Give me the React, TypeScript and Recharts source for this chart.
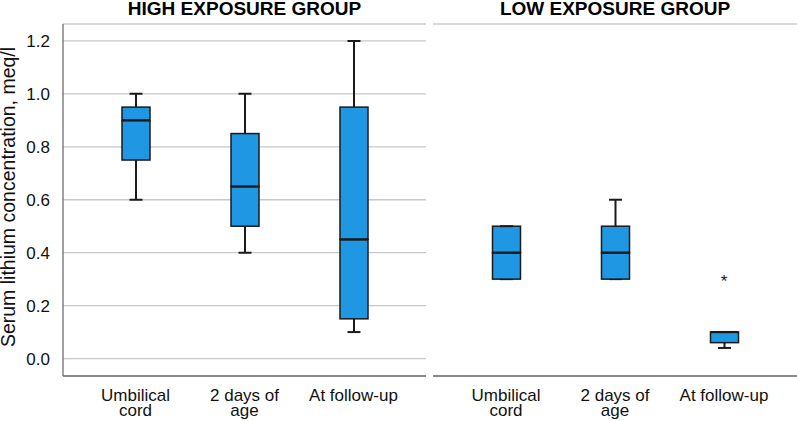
import React from "react";
import { ComposedChart, Bar, Scatter, XAxis, YAxis, CartesianGrid } from "recharts";

const categories = ["Umbilical\ncord", "2 days of\nage", "At follow-up"];
const yTicks = [0, 0.2, 0.4, 0.6, 0.8, 1.0, 1.2];

const highMin = [0.6, 0.4, 0.1];
const highQ1 = [0.75, 0.5, 0.15];
const highMed = [0.9, 0.65, 0.45];
const highQ3 = [0.95, 0.85, 0.95];
const highMax = [1.0, 1.0, 1.2];

const lowMin = [0.3, 0.3, 0.04];
const lowQ1 = [0.3, 0.3, 0.06];
const lowMed = [0.4, 0.4, 0.1];
const lowQ3 = [0.5, 0.5, 0.1];
const lowMax = [0.5, 0.6, 0.1];
const lowOutlier: (number | null)[] = [null, null, 0.3];

const highOutlier: (number | null)[] = [null, null, null];

const BLUE = "#1f97e3";
const INK = "#1a1a1a";
const FONT = "Arial, 'Liberation Sans', sans-serif";

function build(mn: number[], q1: number[], md: number[], q3: number[], mx: number[], out: (number | null)[]) {
  return categories.map((c, i) => ({
    name: c,
    base: mn[i],
    lowW: q1[i] - mn[i],
    boxLo: md[i] - q1[i],
    boxHi: q3[i] - md[i],
    upW: mx[i] - q3[i],
    outlier: out[i],
  }));
}

const highData = build(highMin, highQ1, highMed, highQ3, highMax, highOutlier);
const lowData = build(lowMin, lowQ1, lowMed, lowQ3, lowMax, lowOutlier);

const CAP = 13;

const LowWhisker = (p: any) => {
  const cx = p.x + p.width / 2;
  const y0 = p.y;
  const y1 = p.y + p.height;
  return (
    <g>
      <line x1={cx} x2={cx} y1={y0} y2={y1} stroke={INK} strokeWidth={2} />
      <line x1={cx - CAP / 2} x2={cx + CAP / 2} y1={y1} y2={y1} stroke={INK} strokeWidth={2} />
    </g>
  );
};

const UpWhisker = (p: any) => {
  const cx = p.x + p.width / 2;
  const y0 = p.y;
  const y1 = p.y + p.height;
  return (
    <g>
      <line x1={cx} x2={cx} y1={y0} y2={y1} stroke={INK} strokeWidth={2} />
      <line x1={cx - CAP / 2} x2={cx + CAP / 2} y1={y0} y2={y0} stroke={INK} strokeWidth={2} />
    </g>
  );
};

const BoxLo = (p: any) => (
  <rect x={p.x} y={p.y} width={p.width} height={Math.max(p.height, 0)} fill={BLUE} stroke={INK} strokeWidth={1.5} />
);

const BoxHi = (p: any) => (
  <g>
    <rect x={p.x} y={p.y} width={p.width} height={Math.max(p.height, 0)} fill={BLUE} stroke={INK} strokeWidth={1.5} />
    <line x1={p.x} x2={p.x + p.width} y1={p.y + p.height} y2={p.y + p.height} stroke={INK} strokeWidth={2.2} />
  </g>
);

const Star = (p: any) => {
  if (!p.payload || p.payload.outlier == null || !isFinite(p.cx) || !isFinite(p.cy)) return <g />;
  return (
    <text x={p.cx} y={p.cy + 8} textAnchor="middle" fontFamily={FONT} fontSize={17} fill={INK}>
      *
    </text>
  );
};

const XTick = (p: any) => {
  const lines = String(p.payload.value).split("\n");
  return (
    <text x={p.x} y={p.y} textAnchor="middle" fontFamily={FONT} fontSize={17} fill="#111">
      {lines.map((l, i) => (
        <tspan key={i} x={p.x} dy={i === 0 ? 24.5 : 15.5}>
          {l}
        </tspan>
      ))}
    </text>
  );
};

const AXIS = "#6e6e6e";
const GRID = "#c8c8c8";

function Panel({ data, showY }: { data: any[]; showY: boolean }) {
  const w = showY ? 426 : 371;
  return (
    <ComposedChart
      width={w}
      height={421}
      data={data}
      margin={{ top: 24, right: 0, bottom: 0, left: showY ? 0 : 7 }}
      barSize={28}
    >
      <CartesianGrid vertical={false} stroke={GRID} strokeWidth={1.3} />
      <XAxis
        dataKey="name"
        type="category"
        height={45}
        padding={{ left: showY ? 18 : 18.5, right: showY ? 18 : 18.5 }}
        tickLine={false}
        tickSize={0}
        tickMargin={0}
        axisLine={{ stroke: AXIS, strokeWidth: 1.3 }}
        tick={<XTick />}
        interval={0}
      />
      <YAxis
        type="number"
        domain={[-0.066, 1.264]}
        ticks={yTicks}
        allowDataOverflow
        width={showY ? 63 : 0}
        tickLine={false}
        tickMargin={7}
        axisLine={{ stroke: AXIS, strokeWidth: 1.3 }}
        tick={showY ? { fontFamily: FONT, fontSize: 17, fill: "#111" } : false}
        tickFormatter={(v: number) => v.toFixed(1)}
      />
      <Bar dataKey="base" stackId="b" fill="none" isAnimationActive={false} shape={() => <g />} />
      <Bar dataKey="lowW" stackId="b" isAnimationActive={false} shape={LowWhisker} />
      <Bar dataKey="boxLo" stackId="b" isAnimationActive={false} shape={BoxLo} />
      <Bar dataKey="boxHi" stackId="b" isAnimationActive={false} shape={BoxHi} />
      <Bar dataKey="upW" stackId="b" isAnimationActive={false} shape={UpWhisker} />
      <Scatter dataKey="outlier" isAnimationActive={false} shape={Star} />
    </ComposedChart>
  );
}

export default function App() {
  return (
    <div style={{ position: "absolute", left: 0, top: 0, width: 797, height: 421, background: "#fff", overflow: "hidden" }}>
      <div style={{ position: "absolute", left: 0, top: 0 }}>
        <Panel data={highData} showY={true} />
      </div>
      <div style={{ position: "absolute", left: 426, top: 0 }}>
        <Panel data={lowData} showY={false} />
      </div>
      <svg width={797} height={421} style={{ position: "absolute", left: 0, top: 0, pointerEvents: "none" }}>
        <text x={244.5} y={15} textAnchor="middle" fontFamily={FONT} fontWeight="bold" fontSize={19} fill="#000">
          HIGH EXPOSURE GROUP
        </text>
        <text x={615} y={15} textAnchor="middle" fontFamily={FONT} fontWeight="bold" fontSize={19} fill="#000">
          LOW EXPOSURE GROUP
        </text>
        <text
          x={15}
          y={197}
          transform="rotate(-90, 15, 197)"
          textAnchor="middle"
          fontFamily={FONT}
          fontSize={19.5}
          fill="#111"
        >
          Serum lithium concentration, meq/l
        </text>
      </svg>
    </div>
  );
}
